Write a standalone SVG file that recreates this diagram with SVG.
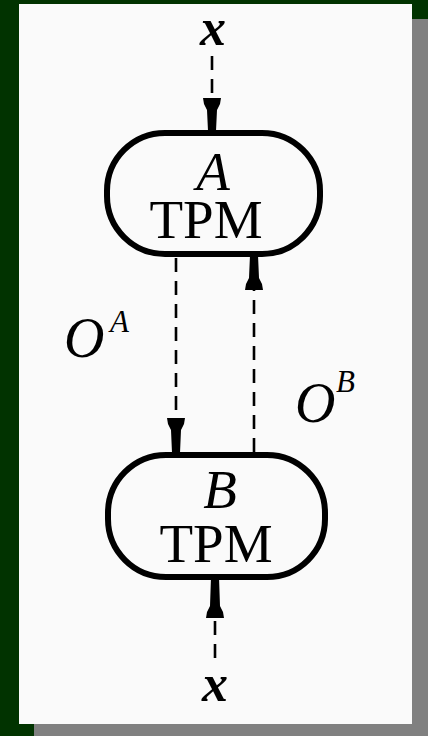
<svg xmlns="http://www.w3.org/2000/svg" width="428" height="736" viewBox="0 0 428 736">
<style>
.node{fill:none;stroke:#000;stroke-width:6}
.conn{stroke:#000;stroke-width:2.6;stroke-dasharray:14 9;fill:none}
.head{fill:#000}
.it{font-family:"Liberation Serif",serif;font-style:italic;fill:#000}
.rm{font-family:"Liberation Serif",serif;fill:#000}
.xv{font-family:"Liberation Serif",serif;font-style:italic;font-weight:bold;fill:#000;font-size:52px;text-anchor:middle}
</style>
<rect x="0" y="0" width="428" height="736" fill="#013300"/>
<rect x="34" y="19" width="394" height="717" fill="#808080"/>
<rect x="19" y="4" width="393" height="720" fill="#fafafa"/>
<g id="connectors">
<line class="conn" x1="212" y1="56" x2="212" y2="98"/>
<polygon class="head" points="203,98 221,98 220,104 217,110 216,131 208,131 207,110 204,104"/>
<line class="conn" x1="176" y1="258" x2="176" y2="418"/>
<polygon class="head" points="167,418 185,418 184,424 181,430 180,453 172,453 171,430 168,424"/>
<line class="conn" x1="254" y1="452" x2="254" y2="290"/>
<polygon class="head" points="245,290 263,290 262,284 259,278 258,255 250,255 249,278 246,284"/>
<polygon class="head" points="206,618 224,618 223,612 220,606 219,577 211,577 210,606 207,612"/>
<line class="conn" x1="215" y1="621" x2="215" y2="664"/>
</g>
<g id="nodeA">
<rect class="node" x="107" y="133" width="213" height="121" rx="58" ry="58"/>
<text class="it" x="213" y="190" font-size="55" text-anchor="middle">A</text>
<text class="rm" x="206" y="238" font-size="55" text-anchor="middle">TPM</text>
</g>
<g id="nodeB">
<rect class="node" x="108" y="455" width="217" height="122" rx="58" ry="58"/>
<text class="it" x="220" y="508" font-size="55" text-anchor="middle">B</text>
<text class="rm" x="216" y="562" font-size="55" text-anchor="middle">TPM</text>
</g>
<text class="xv" x="213" y="45">x</text>
<text class="xv" x="215" y="701">x</text>
<text class="it" x="64" y="357" font-size="56">O</text>
<text class="it" x="110" y="332" font-size="31">A</text>
<text class="it" x="295" y="422" font-size="56">O</text>
<text class="it" x="336" y="392" font-size="31">B</text>
</svg>
